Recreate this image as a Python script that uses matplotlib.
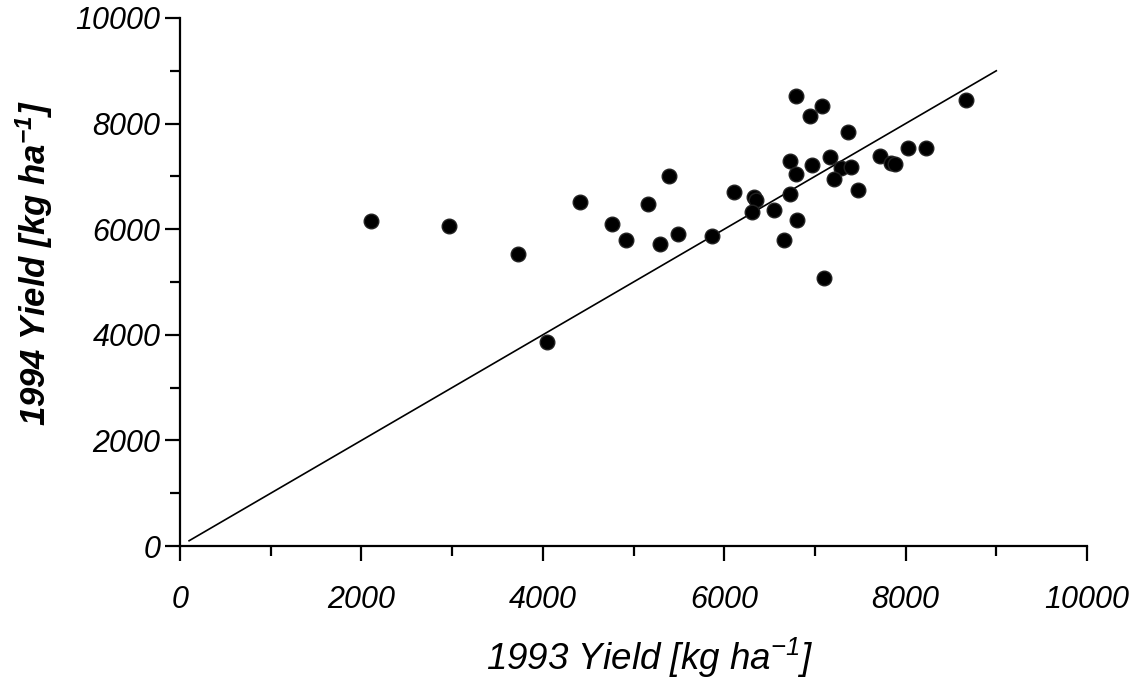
import numpy as np
import matplotlib
matplotlib.use('Agg')
import matplotlib.pyplot as plt
from matplotlib.ticker import MultipleLocator

plt.rcParams['font.family'] = ['Liberation Sans', 'DejaVu Sans']
plt.rcParams['font.style'] = 'italic'
plt.rcParams['mathtext.fontset'] = 'custom'
plt.rcParams['mathtext.rm'] = 'Liberation Sans:italic'
plt.rcParams['mathtext.it'] = 'Liberation Sans:italic'
plt.rcParams['mathtext.bf'] = 'Liberation Sans:bold:italic'

# yields (kg/ha)
yield_1993 = [2108, 2961, 3723, 4051, 4415, 4761, 4919, 5158, 5390, 5290,
              5489, 5865, 6107, 6325, 6354, 6306, 6549, 6722, 6803, 6659,
              6788, 7079, 6947, 7368, 8664, 6726, 6968, 7167, 6791, 7285,
              7395, 7208, 7475, 7719, 7837, 7881, 8028, 8227, 7101]
yield_1994 = [6155, 6066, 5530, 3864, 6515, 6104, 5795, 6477, 7013, 5720,
              5909, 5877, 6711, 6604, 6553, 6326, 6370, 6667, 6180, 5795,
              8528, 8339, 8150, 7847, 8447, 7297, 7221, 7373, 7045, 7159,
              7172, 6945, 6742, 7386, 7260, 7235, 7538, 7532, 5076]

# 1:1 line
line_x = [100, 9000]
line_y = [100, 9000]

fig = plt.figure(figsize=(11.43, 6.81), dpi=100)
ax = fig.add_axes([0.1575, 0.1982, 0.7935, 0.7754])

ax.plot(line_x, line_y, color='black', lw=1.2, zorder=2)
ax.plot(yield_1993, yield_1994, 'o', color='black', markersize=10.5,
        markeredgecolor='#222222', zorder=3)

ax.set_xlim(0, 10000)
ax.set_ylim(0, 10000)
ax.spines['top'].set_visible(False)
ax.spines['right'].set_visible(False)
ax.spines['left'].set_linewidth(1.6)
ax.spines['bottom'].set_linewidth(1.6)

ax.xaxis.set_major_locator(MultipleLocator(2000))
ax.xaxis.set_minor_locator(MultipleLocator(1000))
ax.yaxis.set_major_locator(MultipleLocator(2000))
ax.yaxis.set_minor_locator(MultipleLocator(1000))
ax.tick_params(which='major', length=11, width=1.6, direction='out',
               labelsize=22, pad=17)
ax.tick_params(which='minor', length=7, width=1.6, direction='out')
ax.tick_params(axis='y', which='major', pad=3)

ax.set_xlabel(r'1993 Yield [kg ha$^{-1}$]', fontsize=26.5)
ax.xaxis.label.set_verticalalignment('center')
ax.xaxis.set_label_coords(0.518, -0.212)

ax.set_ylabel(r'1994 Yield [kg ha$^{\mathbf{-1}}$]', fontsize=25,
              fontweight='bold')
ax.yaxis.label.set_verticalalignment('center')
ax.yaxis.set_label_coords(-0.161, 0.536)

fig.savefig('out.png', dpi=100)
